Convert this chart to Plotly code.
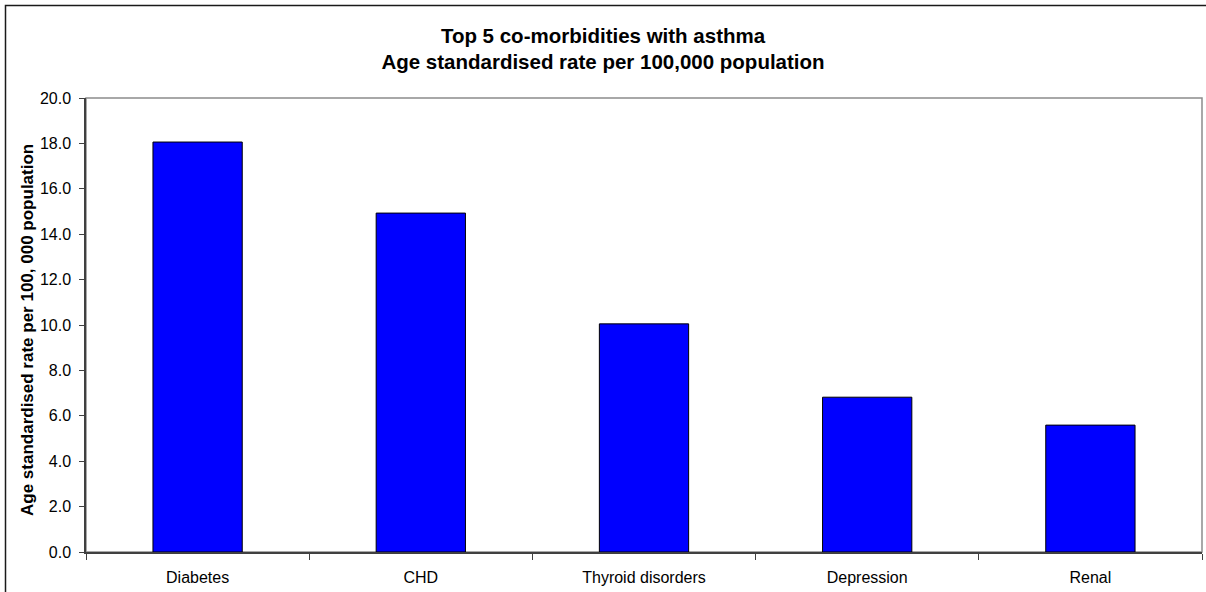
import plotly.graph_objects as go

categories = ["Diabetes", "CHD", "Thyroid disorders", "Depression", "Renal"]
rates = [18.06, 14.93, 10.05, 6.82, 5.59]
y_ticks = [0, 2, 4, 6, 8, 10, 12, 14, 16, 18, 20]
y_tick_labels = ["%.1f" % v for v in y_ticks]

W, H = 1206, 592
L, R, T, B = 86, 4, 98, 40
pw = W - L - R
ph = H - T - B

fig = go.Figure()
fig.add_trace(go.Bar(
    x=categories, y=rates, width=0.4,
    marker=dict(color="#0000FF", line=dict(color="black", width=1)),
))

font = "Liberation Sans, Arial, sans-serif"
fig.update_layout(
    width=W, height=H,
    margin=dict(l=L, r=R, t=T, b=B, pad=0),
    paper_bgcolor="white", plot_bgcolor="white",
    showlegend=False,
    font=dict(family=font, color="black", size=16),
    title=dict(
        text="<b>Top 5 co-morbidities with asthma<br>Age standardised rate per 100,000 population</b>",
        x=0.5, xanchor="center", y=1 - 42.5 / H, yanchor="middle",
        font=dict(size=20.5, family=font, color="black"),
    ),
    xaxis=dict(
        tickson="boundaries", ticks="outside", ticklen=6, tickcolor="#404040",
        showline=True, linecolor="#404040", linewidth=1.5,
        showgrid=False, tickfont=dict(size=16), ticklabelstandoff=10,
    ),
    yaxis=dict(
        range=[0, 20], tickvals=y_ticks, ticktext=y_tick_labels,
        ticks="outside", ticklen=5, tickcolor="#404040",
        showline=True, linecolor="#404040", linewidth=1.5,
        showgrid=False, zeroline=False, tickfont=dict(size=16),
        ticklabelstandoff=5,
    ),
    annotations=[
        dict(text="<b>Age standardised rate per 100, 000 population</b>",
             xref="paper", yref="paper", x=(27 - L) / pw, y=0.5 - 5 / ph,
             xanchor="center", yanchor="middle", textangle=-90,
             showarrow=False, font=dict(size=17, family=font, color="black")),
    ],
    shapes=[
        dict(type="rect", xref="paper", yref="paper", x0=0, x1=1, y0=0, y1=1,
             line=dict(color="#8c8c8c", width=1.5), layer="below"),
        dict(type="rect", xref="paper", yref="paper",
             x0=(5.5 - L) / pw, x1=(W + 10 - L) / pw,
             y0=-(H + 10 - T - ph) / ph, y1=1 + (T - 5.5) / ph,
             line=dict(color="#1a1a1a", width=1.5)),
    ],
)

fig.write_html("out.html")
